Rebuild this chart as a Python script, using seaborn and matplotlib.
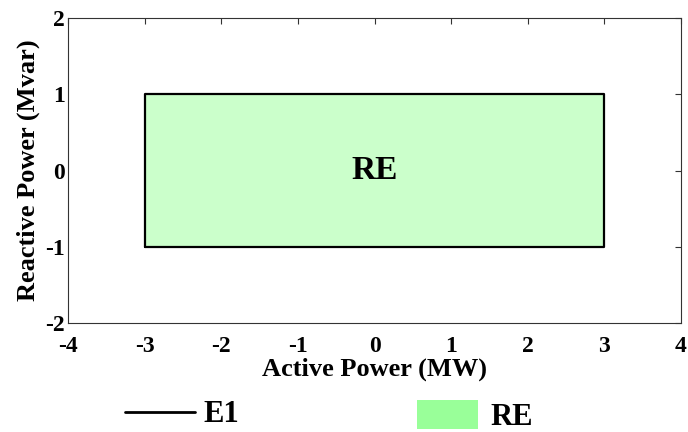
import matplotlib
matplotlib.use("Agg")
import matplotlib.pyplot as plt
import seaborn as sns
import pandas as pd
from matplotlib.lines import Line2D
from matplotlib.patches import Patch

# data
region_p = [-3, 3, 3, -3, -3]
region_q = [-1, -1, 1, 1, -1]
x_ticks = [-4, -3, -2, -1, 0, 1, 2, 3, 4]
y_ticks = [-2, -1, 0, 1, 2]
region_label = "RE"
line_label = "E1"

sns.set_theme(style="white")
plt.rcParams['font.family'] = ['Liberation Serif', 'DejaVu Serif']
plt.rcParams['font.weight'] = 'bold'
plt.rcParams['text.color'] = 'black'
plt.rcParams['axes.labelcolor'] = 'black'

fig = plt.figure(figsize=(6.88, 4.32), dpi=100)
ax = fig.add_axes([68/688, 1-323/432, (681-68)/688, (323-18)/432])

df = pd.DataFrame({"P": region_p, "Q": region_q})
ax.fill(df["P"], df["Q"], color="#99ff99", alpha=0.5, lw=0, zorder=1)
sns.lineplot(data=df, x="P", y="Q", sort=False, estimator=None, color="black",
             linewidth=1.6, ax=ax, zorder=2)
ax.text(0, 0, region_label, ha="center", va="center", fontsize=24, fontweight="bold",
        color="black")

ax.set_xlim(-4, 4)
ax.set_ylim(-2, 2)
ax.set_xticks(x_ticks)
ax.set_yticks(y_ticks)
ax.set_xticklabels([str(v) for v in x_ticks])
ax.set_yticklabels([str(v) for v in y_ticks])
ax.tick_params(direction="in", length=4, width=0.8, colors="#333333", labelcolor="black",
               labelsize=17, top=True, right=True)
ax.tick_params(axis="x", pad=9)
ax.tick_params(axis="y", pad=2)
for lab in ax.get_xticklabels() + ax.get_yticklabels():
    lab.set_fontweight("bold")
for s in ax.spines.values():
    s.set_visible(True)
    s.set_color("#333333")
    s.set_linewidth(0.8)
ax.set_xlabel("Active Power (MW)", fontsize=19, fontweight="bold", labelpad=1,
              color="black")
ax.set_ylabel("Reactive Power (Mvar)", fontsize=19, fontweight="bold", labelpad=4,
              color="black")

h1 = [Line2D([0], [0], color="black", lw=2)]
h2 = [Patch(facecolor="#99ff99", edgecolor="none")]
fig.legend(h1, [line_label], loc="center left", bbox_to_anchor=(125/688, 1-415/432),
           frameon=False, borderpad=0, borderaxespad=0, handlelength=2.3, handletextpad=0.26,
           labelcolor="black",
           prop={"family": "Liberation Serif", "weight": "bold", "size": 22})
fig.legend(h2, [region_label], loc="center left", bbox_to_anchor=(417/688, 1-416/432),
           frameon=False, borderpad=0, borderaxespad=0, handlelength=2.0, handleheight=1.05,
           handletextpad=0.4, labelcolor="black",
           prop={"family": "Liberation Serif", "weight": "bold", "size": 22})

fig.savefig("out.png", dpi=100)
